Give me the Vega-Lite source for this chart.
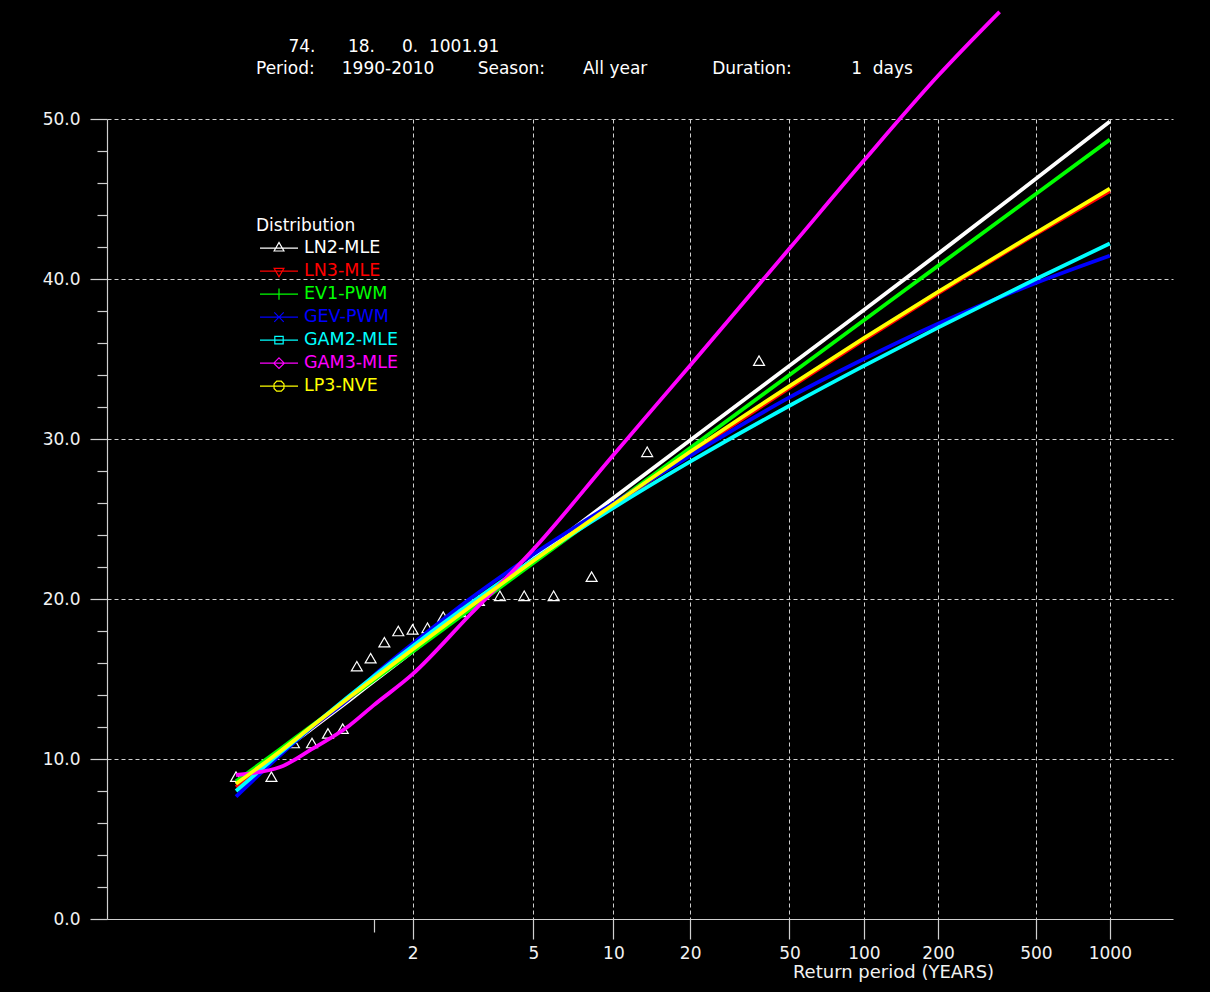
{
  "$schema": "https://vega.github.io/schema/vega-lite/v6.json",
  "width": 1066,
  "height": 800,
  "autosize": {"type": "none"},
  "padding": {"left": 107, "top": 119, "right": 37, "bottom": 73},
  "background": "black",
  "config": {"view": {"stroke": null}},
  "title": {
    "text": "\u200b\u00a0\u00a0\u00a0\u00a0\u00a0\u00a074.\u00a0\u00a0\u00a0\u00a0\u00a0\u00a018.\u00a0\u00a0\u00a0\u00a0\u00a00.\u00a0\u00a01001.91",
    "subtitle": "Period:\u00a0\u00a0\u00a0\u00a0\u00a01990-2010\u00a0\u00a0\u00a0\u00a0\u00a0\u00a0\u00a0\u00a0Season:\u00a0\u00a0\u00a0\u00a0\u00a0\u00a0\u00a0All year\u00a0\u00a0\u00a0\u00a0\u00a0\u00a0\u00a0\u00a0\u00a0\u00a0\u00a0\u00a0Duration:\u00a0\u00a0\u00a0\u00a0\u00a0\u00a0\u00a0\u00a0\u00a0\u00a0\u00a01\u00a0\u00a0days",
    "anchor": "start",
    "frame": "group",
    "dx": 149,
    "offset": -74,
    "font": "DejaVu Sans",
    "fontSize": 17,
    "fontWeight": "normal",
    "color": "#ffffff",
    "subtitleFont": "DejaVu Sans",
    "subtitleFontSize": 17,
    "subtitleFontWeight": "normal",
    "subtitleColor": "#ffffff",
    "subtitlePadding": 5
  },
  "datasets": {
    "obs": [
      {"T": 1.0272, "v": 8.9}, {"T": 1.0798, "v": 8.9}, {"T": 1.1379, "v": 11.0},
      {"T": 1.2027, "v": 11.0}, {"T": 1.2754, "v": 11.6}, {"T": 1.3573, "v": 11.9},
      {"T": 1.4505, "v": 15.8}, {"T": 1.5575, "v": 16.3}, {"T": 1.6815, "v": 17.3},
      {"T": 1.827, "v": 18.0}, {"T": 2.0, "v": 18.1}, {"T": 2.2092, "v": 18.2},
      {"T": 2.4673, "v": 18.9}, {"T": 2.7937, "v": 19.2}, {"T": 3.2195, "v": 19.9},
      {"T": 3.7986, "v": 20.2}, {"T": 4.6316, "v": 20.2}, {"T": 5.9326, "v": 20.2},
      {"T": 8.25, "v": 21.4}, {"T": 13.538, "v": 29.2}, {"T": 37.714, "v": 34.9}
    ],
    "curves": [
      {"dist": "LN2-MLE", "T": 1.0272, "v": 8.43}, {"dist": "LN2-MLE", "T": 1.1, "v": 10.42},
      {"dist": "LN2-MLE", "T": 1.2, "v": 11.87}, {"dist": "LN2-MLE", "T": 1.4, "v": 13.68},
      {"dist": "LN2-MLE", "T": 1.582, "v": 14.84}, {"dist": "LN2-MLE", "T": 2, "v": 16.72},
      {"dist": "LN2-MLE", "T": 3, "v": 19.47}, {"dist": "LN2-MLE", "T": 5, "v": 22.51},
      {"dist": "LN2-MLE", "T": 10, "v": 26.31}, {"dist": "LN2-MLE", "T": 20, "v": 29.92},
      {"dist": "LN2-MLE", "T": 50, "v": 34.58}, {"dist": "LN2-MLE", "T": 100, "v": 38.06},
      {"dist": "LN2-MLE", "T": 200, "v": 41.57}, {"dist": "LN2-MLE", "T": 500, "v": 46.26},
      {"dist": "LN2-MLE", "T": 1000, "v": 49.85},

      {"dist": "LN3-MLE", "T": 1.0272, "v": 8.25}, {"dist": "LN3-MLE", "T": 1.1, "v": 10.4},
      {"dist": "LN3-MLE", "T": 1.2, "v": 11.95}, {"dist": "LN3-MLE", "T": 1.4, "v": 13.8},
      {"dist": "LN3-MLE", "T": 1.582, "v": 14.95}, {"dist": "LN3-MLE", "T": 2, "v": 16.8},
      {"dist": "LN3-MLE", "T": 3, "v": 19.45}, {"dist": "LN3-MLE", "T": 5, "v": 22.35},
      {"dist": "LN3-MLE", "T": 10, "v": 25.85}, {"dist": "LN3-MLE", "T": 20, "v": 29.1},
      {"dist": "LN3-MLE", "T": 50, "v": 33.2}, {"dist": "LN3-MLE", "T": 100, "v": 36.2},
      {"dist": "LN3-MLE", "T": 200, "v": 39.1}, {"dist": "LN3-MLE", "T": 500, "v": 42.8},
      {"dist": "LN3-MLE", "T": 1000, "v": 45.5},

      {"dist": "EV1-PWM", "T": 1.0272, "v": 8.6}, {"dist": "EV1-PWM", "T": 1.1, "v": 10.63},
      {"dist": "EV1-PWM", "T": 1.2, "v": 12.06}, {"dist": "EV1-PWM", "T": 1.4, "v": 13.81},
      {"dist": "EV1-PWM", "T": 1.582, "v": 14.91}, {"dist": "EV1-PWM", "T": 2, "v": 16.7},
      {"dist": "EV1-PWM", "T": 3, "v": 19.33}, {"dist": "EV1-PWM", "T": 5, "v": 22.25},
      {"dist": "EV1-PWM", "T": 10, "v": 25.92}, {"dist": "EV1-PWM", "T": 20, "v": 29.44},
      {"dist": "EV1-PWM", "T": 50, "v": 34.0}, {"dist": "EV1-PWM", "T": 100, "v": 37.42},
      {"dist": "EV1-PWM", "T": 200, "v": 40.82}, {"dist": "EV1-PWM", "T": 500, "v": 45.31},
      {"dist": "EV1-PWM", "T": 1000, "v": 48.71},

      {"dist": "GEV-PWM", "T": 1.0272, "v": 7.65}, {"dist": "GEV-PWM", "T": 1.1, "v": 10.25},
      {"dist": "GEV-PWM", "T": 1.2, "v": 11.95}, {"dist": "GEV-PWM", "T": 1.4, "v": 13.8},
      {"dist": "GEV-PWM", "T": 1.582, "v": 15.2}, {"dist": "GEV-PWM", "T": 2, "v": 17.2},
      {"dist": "GEV-PWM", "T": 3, "v": 20.0}, {"dist": "GEV-PWM", "T": 5, "v": 22.8},
      {"dist": "GEV-PWM", "T": 10, "v": 26.0}, {"dist": "GEV-PWM", "T": 20, "v": 28.95},
      {"dist": "GEV-PWM", "T": 50, "v": 32.6}, {"dist": "GEV-PWM", "T": 100, "v": 35.0},
      {"dist": "GEV-PWM", "T": 200, "v": 37.2}, {"dist": "GEV-PWM", "T": 500, "v": 39.75},
      {"dist": "GEV-PWM", "T": 1000, "v": 41.45},

      {"dist": "GAM2-MLE", "T": 1.0272, "v": 8.0}, {"dist": "GAM2-MLE", "T": 1.1, "v": 10.38},
      {"dist": "GAM2-MLE", "T": 1.2, "v": 12.0}, {"dist": "GAM2-MLE", "T": 1.4, "v": 13.96},
      {"dist": "GAM2-MLE", "T": 1.582, "v": 15.16}, {"dist": "GAM2-MLE", "T": 2, "v": 17.05},
      {"dist": "GAM2-MLE", "T": 3, "v": 19.7}, {"dist": "GAM2-MLE", "T": 5, "v": 22.46},
      {"dist": "GAM2-MLE", "T": 10, "v": 25.69}, {"dist": "GAM2-MLE", "T": 20, "v": 28.58},
      {"dist": "GAM2-MLE", "T": 50, "v": 32.08}, {"dist": "GAM2-MLE", "T": 100, "v": 34.57},
      {"dist": "GAM2-MLE", "T": 200, "v": 36.96}, {"dist": "GAM2-MLE", "T": 500, "v": 40.0},
      {"dist": "GAM2-MLE", "T": 1000, "v": 42.22},

      {"dist": "GAM3-MLE", "T": 1.0272, "v": 9.0}, {"dist": "GAM3-MLE", "T": 1.1, "v": 9.5},
      {"dist": "GAM3-MLE", "T": 1.2, "v": 10.6}, {"dist": "GAM3-MLE", "T": 1.4, "v": 12.1},
      {"dist": "GAM3-MLE", "T": 1.582, "v": 13.35}, {"dist": "GAM3-MLE", "T": 2, "v": 15.3},
      {"dist": "GAM3-MLE", "T": 3, "v": 19.0}, {"dist": "GAM3-MLE", "T": 5, "v": 23.1},
      {"dist": "GAM3-MLE", "T": 10, "v": 29.0}, {"dist": "GAM3-MLE", "T": 20, "v": 34.6},
      {"dist": "GAM3-MLE", "T": 50, "v": 41.9}, {"dist": "GAM3-MLE", "T": 100, "v": 47.4},
      {"dist": "GAM3-MLE", "T": 200, "v": 52.7}, {"dist": "GAM3-MLE", "T": 356, "v": 56.7},

      {"dist": "LP3-NVE", "T": 1.0272, "v": 8.45}, {"dist": "LP3-NVE", "T": 1.1, "v": 10.49},
      {"dist": "LP3-NVE", "T": 1.2, "v": 12.01}, {"dist": "LP3-NVE", "T": 1.4, "v": 13.86},
      {"dist": "LP3-NVE", "T": 1.582, "v": 15.0}, {"dist": "LP3-NVE", "T": 2, "v": 16.85},
      {"dist": "LP3-NVE", "T": 3, "v": 19.5}, {"dist": "LP3-NVE", "T": 5, "v": 22.39},
      {"dist": "LP3-NVE", "T": 10, "v": 25.91}, {"dist": "LP3-NVE", "T": 20, "v": 29.2},
      {"dist": "LP3-NVE", "T": 50, "v": 33.31}, {"dist": "LP3-NVE", "T": 100, "v": 36.3},
      {"dist": "LP3-NVE", "T": 200, "v": 39.19}, {"dist": "LP3-NVE", "T": 500, "v": 42.89},
      {"dist": "LP3-NVE", "T": 1000, "v": 45.65}
    ]
  },
  "layer": [
    {
      "data": {"name": "obs"},
      "transform": [{"calculate": "-log(-log(1 - 1 / datum.T))", "as": "g"}],
      "mark": {"type": "point", "shape": "triangle-up", "filled": false, "stroke": "#ffffff", "strokeWidth": 1.2, "size": 120, "opacity": 1},
      "encoding": {
        "x": {
          "field": "g", "type": "quantitative",
          "scale": {"domain": [-2.5, 7.5], "nice": false, "zero": false},
          "axis": {
            "values": [0, 0.366513, 1.49994, 2.250367, 2.970195, 3.901939, 4.600149, 5.295812, 6.213607, 6.907255],
            "tickCount": 40,
            "labelExpr": "datum.value === 0 ? '' : format(1 / (1 - exp(-exp(-datum.value))), '.0f')",
            "labelOverlap": false,
            "labelFont": "DejaVu Sans", "labelFontSize": 17, "labelColor": "#f2f2f2", "labelPadding": 6,
            "tickSize": {"condition": {"test": "datum.value === 0", "value": 13}, "value": 20},
            "tickColor": "#d0d0d0", "tickWidth": 1.2,
            "domainColor": "#d0d0d0", "domainWidth": 1.2,
            "grid": true, "gridColor": "#d0d0d0", "gridDash": [4, 3], "gridWidth": 1,
            "gridOpacity": {"condition": {"test": "datum.value === 0", "value": 0}, "value": 1},
            "title": "Return period (YEARS)",
            "titleFont": "DejaVu Sans", "titleFontSize": 18, "titleFontWeight": "normal", "titleColor": "#f2f2f2",
            "titleAlign": "center", "titleBaseline": "alphabetic", "titleX": 786, "titleY": 58
          }
        },
        "y": {
          "field": "v", "type": "quantitative",
          "scale": {"domain": [0, 50], "nice": false},
          "axis": {
            "values": [0, 2, 4, 6, 8, 10, 12, 14, 16, 18, 20, 22, 24, 26, 28, 30, 32, 34, 36, 38, 40, 42, 44, 46, 48, 50],
            "tickCount": 60,
            "labelExpr": "datum.value % 10 === 0 ? format(datum.value, '.1f') : ''",
            "labelOverlap": false,
            "labelFont": "DejaVu Sans", "labelFontSize": 17, "labelColor": "#f2f2f2", "labelPadding": 10,
            "tickSize": {"condition": {"test": "datum.value % 10 === 0", "value": 17}, "value": 10},
            "tickColor": "#d0d0d0", "tickWidth": 1.2,
            "domainColor": "#d0d0d0", "domainWidth": 1.2,
            "grid": true, "gridColor": "#d0d0d0", "gridDash": [4, 3], "gridWidth": 1,
            "gridOpacity": {"condition": {"test": "datum.value % 10 === 0 && datum.value > 0", "value": 1}, "value": 0},
            "title": null
          }
        }
      }
    },
    {
      "data": {"name": "curves"},
      "transform": [{"calculate": "-log(-log(1 - 1 / datum.T))", "as": "g"}],
      "mark": {"type": "line", "strokeWidth": 3.8, "interpolate": "monotone", "clip": false},
      "encoding": {
        "x": {"field": "g", "type": "quantitative"},
        "y": {"field": "v", "type": "quantitative"},
        "color": {
          "field": "dist", "type": "nominal",
          "scale": {
            "domain": ["LN2-MLE", "LN3-MLE", "EV1-PWM", "GEV-PWM", "GAM2-MLE", "GAM3-MLE", "LP3-NVE"],
            "range": ["#ffffff", "#ff0000", "#00ff00", "#0000ff", "#00ffff", "#ff00ff", "#ffff00"]
          },
          "legend": {
            "orient": "none", "legendX": 149, "legendY": 99,
            "title": "Distribution", "titleColor": "#ffffff", "titleFont": "DejaVu Sans", "titleFontSize": 17, "titleFontWeight": "normal", "titlePadding": 2,
            "labelFont": "DejaVu Sans", "labelFontSize": 17.5, "labelOffset": 5,
            "symbolSize": 1444, "symbolStrokeWidth": 1.2, "symbolType": "stroke", "symbolOffset": 3,
            "clipHeight": 22.33, "rowPadding": 0, "padding": 0,
            "encode": {
              "labels": {"update": {"fill": {"scale": "color", "field": "value"}}},
              "symbols": {"update": {
                "fill": {"value": "transparent"},
                "shape": {"signal": "datum.value === 'LN2-MLE' ? 'M-1,0H1M-0.26,0.15L0,-0.3L0.26,0.15Z' : datum.value === 'LN3-MLE' ? 'M-1,0H1M-0.26,-0.15L0,0.3L0.26,-0.15Z' : datum.value === 'EV1-PWM' ? 'M-1,0H1M0,-0.3V0.3' : datum.value === 'GEV-PWM' ? 'M-1,0H1M-0.25,-0.25L0.25,0.25M-0.25,0.25L0.25,-0.25' : datum.value === 'GAM2-MLE' ? 'M-1,0H1M-0.22,-0.2H0.22V0.2H-0.22Z' : datum.value === 'GAM3-MLE' ? 'M-1,0H1M0,-0.28L0.28,0L0,0.28L-0.28,0Z' : 'M-1,0H1M-0.12,-0.26H0.12L0.26,-0.12V0.12L0.12,0.26H-0.12L-0.26,0.12V-0.12Z'"}
              }}
            }
          }
        }
      }
    }
  ]
}
